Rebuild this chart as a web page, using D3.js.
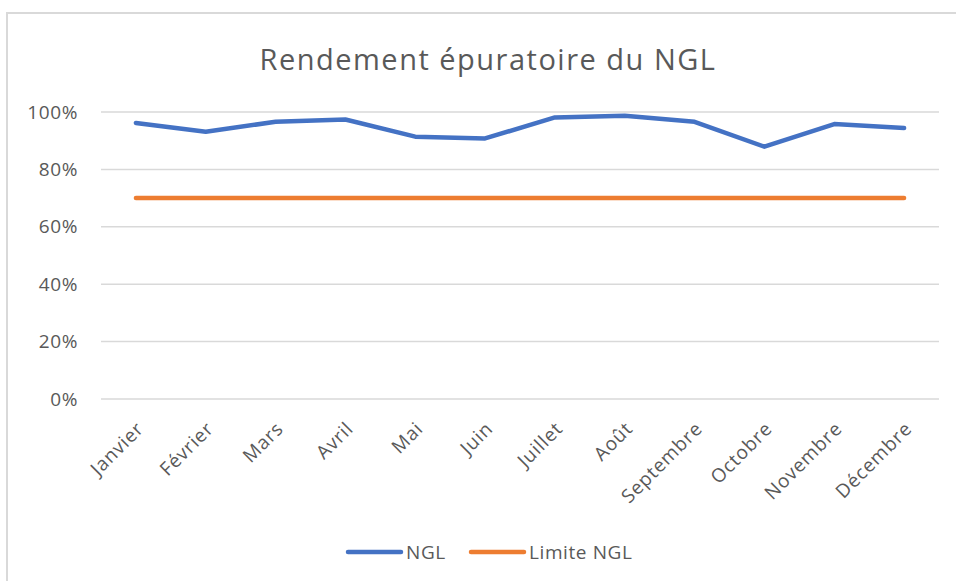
<!DOCTYPE html>
<html>
<head>
<meta charset="utf-8">
<script src="https://cdn.jsdelivr.net/npm/d3@7"></script>
<style>
  body { margin: 0; background: #fff; }
  text { font-family: "Open Sans", sans-serif; fill: #595959; }
</style>
</head>
<body>
<div id="chart"></div>
<script>

// donnees
var months = ["Janvier", "Février", "Mars", "Avril", "Mai", "Juin",
  "Juillet", "Août", "Septembre", "Octobre", "Novembre", "Décembre"];
var ngl = [0.962, 0.931, 0.966, 0.974, 0.914, 0.908,
  0.981, 0.987, 0.966, 0.879, 0.958, 0.944];
var limite = [0.70, 0.70, 0.70, 0.70, 0.70, 0.70,
  0.70, 0.70, 0.70, 0.70, 0.70, 0.70];
var yTicks = [0, 0.2, 0.4, 0.6, 0.8, 1.0];

var svg = d3.select("#chart")
  .append("svg")
  .attr("width", 956)
  .attr("height", 581);

// cadre du graphique
svg.append("rect")
  .attr("x", 7)
  .attr("y", 13)
  .attr("width", 1000)
  .attr("height", 700)
  .attr("fill", "#fff")
  .attr("stroke", "#d9d9d9")
  .attr("stroke-width", 2);

svg.append("text")
  .attr("x", 488)
  .attr("y", 70)
  .attr("text-anchor", "middle")
  .style("font-size", "29px")
  .style("letter-spacing", "1.5px")
  .text("Rendement épuratoire du NGL");

var x = d3.scaleBand()
  .domain(months)
  .range([101, 939]);

var y = d3.scaleLinear()
  .domain([0, 1])
  .range([399, 112]);

// grille
svg.append("g")
  .selectAll("line")
  .data(yTicks)
  .enter()
  .append("line")
  .attr("x1", 101)
  .attr("x2", 939)
  .attr("y1", function(d) { return y(d); })
  .attr("y2", function(d) { return y(d); })
  .attr("stroke", "#d9d9d9")
  .attr("stroke-width", 1.5);

var yAxis = d3.axisLeft(y)
  .tickValues(yTicks)
  .tickFormat(d3.format(".0%"))
  .tickSize(0)
  .tickPadding(0);

var gy = svg.append("g")
  .attr("transform", "translate(78,0)")
  .call(yAxis);
gy.select(".domain").remove();
gy.selectAll("text")
  .style("font-size", "19px")
  .style("letter-spacing", "0.6px")
  .attr("fill", "#595959");

var xAxis = d3.axisBottom(x)
  .tickSize(0)
  .tickPadding(0);

var gx = svg.append("g")
  .attr("transform", "translate(0,399)")
  .call(xAxis);
gx.select(".domain").remove();
gx.selectAll("text")
  .style("font-size", "19px")
  .style("letter-spacing", "0.8px")
  .attr("fill", "#595959")
  .style("text-anchor", "end")
  .attr("dy", 0)
  .attr("y", 0)
  .attr("transform", "translate(9,31) rotate(-45)");

var line = d3.line()
  .x(function(d, i) { return x(months[i]) + x.bandwidth() / 2; })
  .y(function(d) { return y(d); });

svg.append("path")
  .datum(limite)
  .attr("fill", "none")
  .attr("stroke", "#ED7D31")
  .attr("stroke-width", 4.5)
  .attr("stroke-linecap", "round")
  .attr("stroke-linejoin", "round")
  .attr("d", line);

svg.append("path")
  .datum(ngl)
  .attr("fill", "none")
  .attr("stroke", "#4472C4")
  .attr("stroke-width", 4.5)
  .attr("stroke-linecap", "round")
  .attr("stroke-linejoin", "round")
  .attr("d", line);

// legende
var legend = [
  {name: "NGL", color: "#4472C4", x: 348},
  {name: "Limite NGL", color: "#ED7D31", x: 471}
];
var lg = svg.selectAll(".legend")
  .data(legend)
  .enter()
  .append("g")
  .attr("class", "legend")
  .attr("transform", function(d) { return "translate(" + d.x + ",552)"; });
lg.append("line")
  .attr("x1", 0)
  .attr("x2", 53)
  .attr("stroke", function(d) { return d.color; })
  .attr("stroke-width", 4.5)
  .attr("stroke-linecap", "round");
lg.append("text")
  .attr("x", 58)
  .attr("y", 7)
  .style("font-size", "19px")
  .style("letter-spacing", "0.6px")
  .text(function(d) { return d.name; });

</script>
</body>
</html>
